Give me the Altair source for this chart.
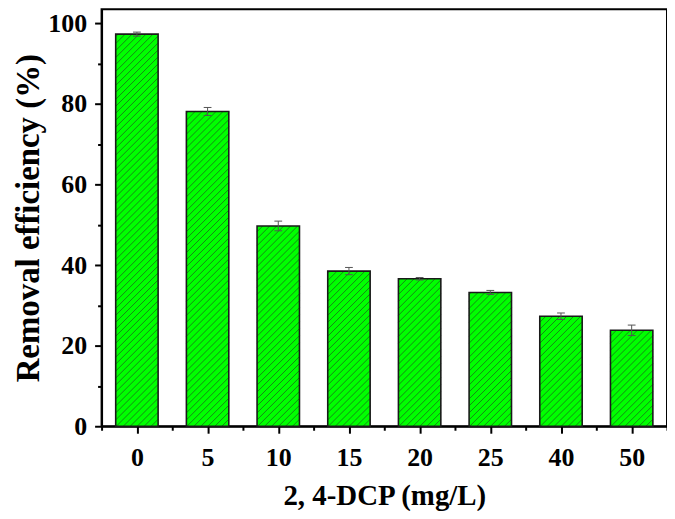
import altair as alt
import pandas as pd

# ---- data ----
categories = ["0", "5", "10", "15", "20", "25", "40", "50"]
removal = [97.3, 78.1, 49.7, 38.5, 36.6, 33.2, 27.3, 23.8]
errors = [0.5, 1.0, 1.2, 0.9, 0.3, 0.5, 0.8, 1.3]
y_major = [0, 20, 40, 60, 80, 100]
y_minor = [10, 30, 50, 70, 90]

# ---- layout constants ----
W, H = 568, 419
YMAX = 103.5
N = len(categories)
PX = W / N            # px per x unit
PY = H / YMAX         # px per y unit
HALF = 0.3            # half bar width (x units)
BW = 2 * HALF * PX    # bar width px
S = 7.0               # hatch spacing px
CAP = 0.055

df = pd.DataFrame({"idx": list(range(N)), "cat": categories, "val": removal, "err": errors})
nk = int((BW + max(removal) * PY) / S) + 2
hatch_df = df.merge(pd.DataFrame({"k": list(range(nk))}), how="cross")

label_expr = "[" + ",".join(f"'{c}'" for c in categories) + "][round(datum.value)]"
x_major = list(range(N))
x_minor = [i - 0.5 for i in range(N + 1)]

xscale = alt.Scale(domain=[-0.5, N - 0.5], nice=False, zero=False)
yscale = alt.Scale(domain=[0, YMAX], nice=False)

axis_font = "Liberation Serif"

x_axis_major = alt.Axis(values=x_major, labelExpr=label_expr, title="2, 4-DCP (mg/L)",
                        orient="bottom", tickSize=7, labelPadding=11, titlePadding=12,
                        titleFontSize=29, grid=False, labelAngle=0)
y_axis_major = alt.Axis(values=y_major, title="Removal efficiency (%)", orient="left",
                        tickSize=7, labelPadding=8, titlePadding=2, titleFontSize=33,
                        grid=False)
x_axis_minor = alt.Axis(values=x_minor, labels=False, title=None, orient="bottom",
                        tickSize=4, domain=False, grid=False)
y_axis_minor = alt.Axis(values=y_minor, labels=False, title=None, orient="left",
                        tickSize=4, domain=False, grid=False)

base = alt.Chart(df).transform_calculate(
    x0=f"datum.idx - {HALF}", x1=f"datum.idx + {HALF}",
    lo="datum.val - datum.err", hi="datum.val + datum.err",
    c0=f"datum.idx - {CAP}", c1=f"datum.idx + {CAP}",
    zero="0"
)

bars = base.mark_bar(fill="#00FF00", strokeWidth=0).encode(
    x=alt.X("x0:Q", scale=xscale, axis=x_axis_major),
    x2="x1:Q",
    y=alt.Y("val:Q", scale=yscale, axis=y_axis_major),
    y2="zero:Q",
)

hatch = alt.Chart(hatch_df).transform_calculate(
    hpx=f"datum.val * {PY}",
    c=f"datum.k * {S} - {BW}",
).transform_calculate(
    u0="max(0, -datum.c)",
    u1=f"min({BW}, datum.hpx - datum.c)",
).transform_filter("datum.u1 > datum.u0 + 0.5").transform_calculate(
    hx=f"datum.idx - {HALF} + datum.u0 / {PX}",
    hx2=f"datum.idx - {HALF} + datum.u1 / {PX}",
    hy=f"(datum.u0 + datum.c) / {PY}",
    hy2=f"(datum.u1 + datum.c) / {PY}",
).mark_rule(color="#1d5a1d", strokeWidth=0.9, opacity=0.8).encode(
    x=alt.X("hx:Q", scale=xscale, axis=None),
    x2="hx2:Q",
    y=alt.Y("hy:Q", scale=yscale, axis=None),
    y2="hy2:Q",
)

outline = base.mark_bar(fillOpacity=0, stroke="#1a1a1a", strokeWidth=1.6).encode(
    x=alt.X("x0:Q", scale=xscale, axis=None),
    x2="x1:Q",
    y=alt.Y("val:Q", scale=yscale, axis=None),
    y2="zero:Q",
)

err_v = base.mark_rule(color="#555555", strokeWidth=1).encode(
    x=alt.X("idx:Q", scale=xscale, axis=x_axis_minor),
    y=alt.Y("lo:Q", scale=yscale, axis=y_axis_minor),
    y2="hi:Q",
)
cap_hi = base.mark_rule(color="#555555", strokeWidth=1).encode(
    x=alt.X("c0:Q", scale=xscale, axis=None), x2="c1:Q",
    y=alt.Y("hi:Q", scale=yscale, axis=None),
)
cap_lo = base.mark_rule(color="#555555", strokeWidth=1).encode(
    x=alt.X("c0:Q", scale=xscale, axis=None), x2="c1:Q",
    y=alt.Y("lo:Q", scale=yscale, axis=None),
)

chart = alt.layer(bars, hatch, outline, err_v, cap_hi, cap_lo).resolve_axis(
    x="independent", y="independent"
).properties(
    width=W, height=H,
    autosize=alt.AutoSizeParams(type="none"),
    padding={"left": 94, "top": 0, "right": 0, "bottom": 84},
).configure_view(
    stroke="#000000", strokeWidth=2
).configure_axis(
    domainColor="#000000", domainWidth=2, tickColor="#000000", tickWidth=2,
    labelFont=axis_font, labelFontWeight="bold", labelFontSize=26, labelColor="#000000",
    titleFont=axis_font, titleFontWeight="bold", titleColor="#000000",
)

chart.save("out.html", embed_options={"renderer": "svg", "actions": False})
